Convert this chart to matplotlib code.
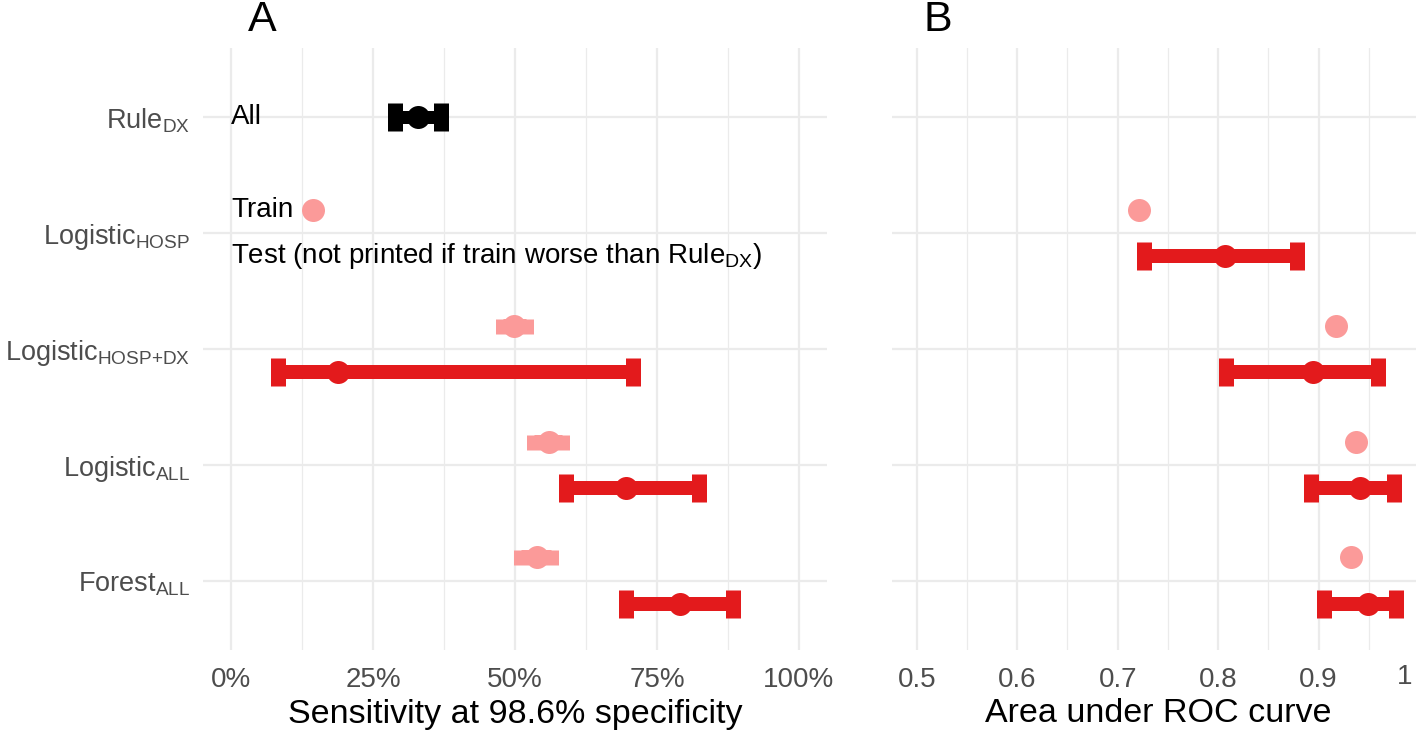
import numpy as np
import matplotlib
matplotlib.use("Agg")
import matplotlib.pyplot as plt

plt.rcParams["font.family"] = ["Liberation Sans", "DejaVu Sans"]
plt.rcParams["mathtext.fontset"] = "custom"
plt.rcParams["mathtext.rm"] = "Liberation Sans"
plt.rcParams["mathtext.it"] = "Liberation Sans:italic"
plt.rcParams["mathtext.bf"] = "Liberation Sans:bold"

# models, top to bottom
models = [r"Rule$_{\mathrm{DX}}$", r"Logistic$_{\mathrm{HOSP}}$",
          r"Logistic$_{\mathrm{HOSP{+}DX}}$", r"Logistic$_{\mathrm{ALL}}$",
          r"Forest$_{\mathrm{ALL}}$"]

# panel A: sensitivity at 98.6% specificity
rule_est, rule_lo, rule_hi = 0.330, 0.288, 0.370
sens_train = [np.nan, 0.145, 0.499, 0.559, 0.538]
sens_train_lo = [np.nan, np.nan, 0.478, 0.534, 0.511]
sens_train_hi = [np.nan, np.nan, 0.520, 0.582, 0.564]
sens_test = [np.nan, np.nan, 0.188, 0.695, 0.790]
sens_test_lo = [np.nan, np.nan, 0.082, 0.590, 0.695]
sens_test_hi = [np.nan, np.nan, 0.707, 0.824, 0.884]

# panel B: area under ROC curve
auc_train = [np.nan, 0.721, 0.917, 0.937, 0.932]
auc_test = [np.nan, 0.807, 0.894, 0.941, 0.949]
auc_test_lo = [np.nan, 0.726, 0.808, 0.892, 0.905]
auc_test_hi = [np.nan, 0.879, 0.959, 0.975, 0.977]

RED = "#E31A1C"
PINK = "#FB9A99"
GRID = "#EBEBEB"
TICK = "#4D4D4D"
PX = 0.72  # points per pixel at dpi 100

W, H = 1416, 732
fig = plt.figure(figsize=(W / 100, H / 100), dpi=100)
top, bot = 48, 650
axA = fig.add_axes([202.6 / W, (H - bot) / H, (827.4 - 202.6) / W, (bot - top) / H])
axB = fig.add_axes([891.6 / W, (H - bot) / H, (1419 - 891.6) / W, (bot - top) / H])

ypos = np.arange(len(models))
dodge = 0.2


def bars(ax, est, lo, hi, y, color, cap_h, lw):
    est, lo, hi = np.asarray(est), np.asarray(lo), np.asarray(hi)
    ok = ~np.isnan(lo)
    # errorbar caps are 2*capsize long
    ax.errorbar(est[ok], y[ok], xerr=[est[ok] - lo[ok], hi[ok] - est[ok]],
                fmt="none", ecolor=color, elinewidth=lw * PX,
                capsize=cap_h / 2 * PX, capthick=15 * PX, zorder=3)
    ax.plot(est, y, "o", color=color, ms=23 * PX, mew=0, zorder=4)


for ax in (axA, axB):
    ax.set_ylim(len(models) - 0.4, -0.6)
    ax.set_yticks(ypos)
    for s in ax.spines.values():
        s.set_visible(False)
    ax.tick_params(which="both", length=0, labelsize=20, colors=TICK, pad=12)
    ax.tick_params(axis="y", labelsize=19.5, pad=9)
    ax.grid(True, which="major", color=GRID, lw=1.6, zorder=0)
    ax.grid(True, which="minor", axis="x", color=GRID, lw=0.9, zorder=0)
    ax.set_axisbelow(True)

# panel A
axA.set_xlim(-0.05, 1.05)
axA.set_xticks([0, 0.25, 0.5, 0.75, 1.0])
axA.set_xticklabels(["0%", "25%", "50%", "75%", "100%"])
axA.set_xticks([0.125, 0.375, 0.625, 0.875], minor=True)
axA.set_yticklabels(models)
bars(axA, sens_train, sens_train_lo, sens_train_hi, ypos - dodge, PINK, 15, 15)
bars(axA, sens_test, sens_test_lo, sens_test_hi, ypos + dodge, RED, 28, 14)
bars(axA, [rule_est], [rule_lo], [rule_hi], ypos[:1], "black", 28, 13)
axA.text(0, 0, "All", fontsize=20, ha="left", va="center", zorder=5)
axA.text(0, 1 - dodge, "Train", fontsize=20, ha="left", va="center", zorder=5)
axA.text(0, 1 + dodge, r"Test (not printed if train worse than Rule$_{\mathrm{DX}}$)",
         fontsize=20, ha="left", va="center", zorder=5)
axA.set_xlabel("Sensitivity at 98.6% specificity", fontsize=24.5, va="center")
axA.xaxis.set_label_coords(0.5, (bot - 714) / (bot - top))

# panel B
axB.set_xlim(0.475, 1.0)
axB.set_xticks([0.5, 0.6, 0.7, 0.8, 0.9, 1.0])
axB.set_xticklabels(["0.5", "0.6", "0.7", "0.8", "0.9", ""])
axB.set_xticks([0.55, 0.65, 0.75, 0.85, 0.95], minor=True)
axB.set_yticklabels([])
axB.text(1405 / W, (H - 677) / H, "1", transform=fig.transFigure, fontsize=20,
         color=TICK, ha="center", va="center")
bars(axB, auc_train, [np.nan] * 5, [np.nan] * 5, ypos - dodge, PINK, 15, 15)
bars(axB, auc_test, auc_test_lo, auc_test_hi, ypos + dodge, RED, 28, 14)
axB.set_xlabel("Area under ROC curve", fontsize=24.5, va="center")
axB.xaxis.set_label_coords((1158 - 891.6) / (1419 - 891.6), (bot - 714) / (bot - top))

fig.text(262 / W, 1 - 20 / H, "A", fontsize=31, ha="center", va="center")
fig.text(938 / W, 1 - 20 / H, "B", fontsize=31, ha="center", va="center")

fig.savefig("out.png", dpi=100)
